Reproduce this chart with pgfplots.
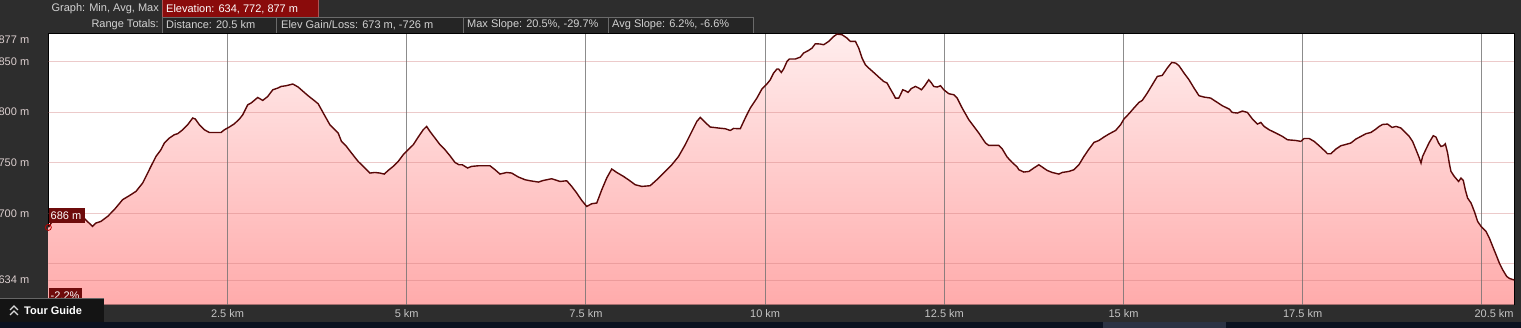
\documentclass[border=0pt]{standalone}
\usepackage{pgfplots}
\pgfplotsset{compat=1.18}
\usepackage{pgfplotstable}
\usepackage{fontspec}
\setmainfont{Liberation Sans}
\definecolor{bg}{HTML}{2D2D2D}
\definecolor{navy}{HTML}{0B1220}
\definecolor{thumb}{HTML}{2C3344}
\definecolor{boxbg}{HTML}{252525}
\definecolor{boxline}{HTML}{6A6A6A}
\definecolor{elevred}{HTML}{8A0B0B}
\definecolor{maroon}{HTML}{6E0C0C}
\definecolor{curve}{HTML}{5A0808}
\definecolor{fillTop}{HTML}{FFEDED}
\definecolor{fillBot}{HTML}{FFABAB}
\definecolor{ylab}{HTML}{DCCFCF}
\definecolor{xlab}{HTML}{C4C4C4}
\definecolor{toptxt}{HTML}{D2D2D2}
\definecolor{gridpink}{HTML}{D07C7C}
\definecolor{gridgray}{HTML}{707070}

\pgfplotstableread{
km elev
0 686
0.10 697
0.30 699
0.478 696.3
0.617 687.0
0.663 690.3
0.733 691.9
0.827 696.9
0.919 703.5
1.036 713.4
1.128 717.3
1.222 721.6
1.316 729.9
1.362 736.4
1.431 746.3
1.501 756.1
1.571 762.8
1.618 769.4
1.688 774.3
1.757 777.6
1.804 778.6
1.874 782.5
1.944 787.5
2.014 794.1
2.050 793.1
2.106 787.5
2.176 782.5
2.246 779.8
2.409 779.8
2.456 782.5
2.525 785.2
2.595 788.4
2.665 793.1
2.712 797.3
2.758 803.9
2.782 807.2
2.828 808.9
2.921 814.4
2.991 811.5
3.061 815.4
3.131 822.0
3.201 823.7
3.247 825.3
3.317 826.0
3.410 827.7
3.485 824.7
3.554 820.4
3.624 816.1
3.694 812.2
3.764 808.2
3.810 802.3
3.857 796.3
3.927 787.5
3.997 782.5
4.043 779.3
4.089 771.0
4.159 766.0
4.229 759.5
4.322 751.2
4.416 744.7
4.486 739.7
4.556 740.3
4.626 739.7
4.686 738.7
4.741 742.3
4.811 746.3
4.881 751.2
4.951 757.8
5.021 762.8
5.091 767.7
5.160 775.3
5.230 782.5
5.277 785.8
5.324 780.8
5.394 774.3
5.464 767.7
5.533 762.8
5.603 756.8
5.673 750.2
5.729 747.9
5.775 747.9
5.849 744.7
5.905 746.3
5.998 746.9
6.162 746.9
6.232 743.0
6.301 738.7
6.394 740.3
6.464 739.7
6.557 735.8
6.651 733.1
6.720 732.1
6.837 730.8
6.906 732.4
7.022 734.1
7.139 731.4
7.232 732.1
7.302 726.5
7.371 720.0
7.441 712.7
7.511 706.7
7.581 709.4
7.651 710.1
7.721 723.2
7.790 734.8
7.860 743.7
7.930 740.3
8.024 736.4
8.093 733.1
8.187 728.2
8.279 726.5
8.396 727.2
8.489 733.1
8.606 741.3
8.698 747.9
8.792 756.1
8.885 767.7
8.977 780.8
9.047 790.7
9.095 794.7
9.165 789.7
9.234 785.2
9.350 784.2
9.444 783.5
9.514 781.8
9.560 783.8
9.653 783.5
9.723 794.1
9.793 804.0
9.885 813.8
9.955 822.7
10.025 827.7
10.072 831.9
10.118 838.5
10.165 842.5
10.188 842.5
10.226 839.1
10.258 842.5
10.305 850.0
10.338 852.4
10.422 852.4
10.491 854.3
10.537 858.3
10.607 860.9
10.654 863.2
10.701 867.5
10.771 867.2
10.817 866.5
10.887 869.8
10.957 874.7
11.003 877.0
11.073 876.4
11.142 873.1
11.190 869.8
11.260 869.8
11.306 863.2
11.352 853.4
11.399 846.7
11.445 843.5
11.515 839.1
11.585 834.6
11.655 830.2
11.701 828.7
11.748 822.7
11.794 817.1
11.818 813.8
11.864 813.8
11.888 817.1
11.920 822.0
11.958 821.0
11.994 819.4
12.041 823.3
12.097 825.3
12.144 823.7
12.181 822.0
12.227 826.0
12.283 831.9
12.321 828.7
12.353 825.3
12.399 824.7
12.447 826.0
12.493 822.0
12.563 818.1
12.633 817.1
12.679 813.8
12.749 804.0
12.842 792.4
12.912 785.8
12.981 779.3
13.028 774.3
13.075 769.4
13.121 767.0
13.261 767.0
13.307 763.7
13.377 755.5
13.447 750.2
13.517 745.7
13.540 743.0
13.610 740.7
13.680 741.3
13.749 744.7
13.819 747.9
13.865 745.7
13.935 742.3
14.005 740.3
14.098 738.7
14.145 740.3
14.238 741.3
14.308 743.0
14.378 747.9
14.448 756.1
14.518 763.4
14.588 770.0
14.657 771.9
14.727 775.3
14.797 778.3
14.890 781.8
14.960 787.5
15.006 793.1
15.076 798.3
15.146 804.0
15.216 809.5
15.262 811.5
15.332 818.8
15.402 827.0
15.472 835.2
15.541 836.2
15.611 843.5
15.673 849.0
15.728 848.4
15.775 845.7
15.845 838.5
15.914 831.9
15.984 823.7
16.054 816.1
16.124 814.8
16.217 813.8
16.287 810.5
16.380 806.2
16.473 803.0
16.519 799.6
16.589 799.0
16.659 801.0
16.729 799.6
16.799 793.1
16.869 788.1
16.916 789.7
16.962 785.8
17.032 782.5
17.125 779.3
17.218 775.9
17.288 772.6
17.404 771.9
17.474 771.0
17.520 773.9
17.590 773.9
17.660 771.0
17.730 766.7
17.800 762.1
17.846 758.8
17.893 758.8
17.963 763.4
18.033 766.7
18.103 768.0
18.173 769.4
18.242 773.3
18.312 775.9
18.382 778.6
18.452 779.8
18.522 783.2
18.568 785.8
18.614 787.7
18.684 788.1
18.746 784.8
18.802 785.8
18.871 784.2
18.918 780.8
18.987 775.9
19.033 771.0
19.081 762.8
19.127 754.6
19.151 749.6
19.173 756.1
19.221 763.4
19.266 770.0
19.322 776.6
19.360 775.3
19.396 769.4
19.430 766.0
19.462 766.7
19.490 768.7
19.522 759.5
19.545 749.6
19.569 741.3
19.615 736.4
19.675 731.4
19.709 734.8
19.741 732.4
19.769 723.2
19.801 715.0
19.849 710.1
19.895 701.8
19.941 691.9
19.989 687.0
20.058 682.0
20.104 675.5
20.151 667.2
20.198 659.0
20.244 650.8
20.290 644.2
20.346 637.6
20.384 635.6
20.454 634.0
}\profile

\begin{document}
\begin{tikzpicture}[x=1pt,y=1pt,font=\fontsize{11}{13}\selectfont]
\path[use as bounding box] (0,0) rectangle (1521,328);
\fill[bg] (0,0) rectangle (1521,328);
\fill[navy] (0,0) rectangle (1521,6);
\fill[thumb] (1103,0) rectangle (1226,6);

% top info bar
\node[anchor=east,text=toptxt,inner sep=0pt] at (159,319) {Graph: Min, Avg, Max};
\filldraw[fill=elevred,draw=elevred!70!white,line width=0.6pt] (162,310.5) rectangle (318,330);
\node[anchor=west,text=white,inner sep=0pt] at (166,319) {Elevation: 634, 772, 877 m};
\node[anchor=east,text=toptxt,inner sep=0pt] at (159,303) {Range Totals:};
\filldraw[fill=boxbg,draw=boxline,line width=0.6pt] (162,295) rectangle (276,311);
\filldraw[fill=boxbg,draw=boxline,line width=0.6pt] (276,295) rectangle (463,311);
\filldraw[fill=boxbg,draw=boxline,line width=0.6pt] (463,295) rectangle (608,311);
\filldraw[fill=boxbg,draw=boxline,line width=0.6pt] (608,295) rectangle (753,311);
\node[anchor=west,text=toptxt,inner sep=0pt] at (166,303) {Distance: 20.5 km};
\node[anchor=west,text=toptxt,inner sep=0pt] at (281,303) {Elev Gain/Loss: 673 m, -726 m};
\node[anchor=west,text=toptxt,inner sep=0pt] at (467,303) {Max Slope: 20.5\%, -29.7\%};
\node[anchor=west,text=toptxt,inner sep=0pt] at (612,303) {Avg Slope: 6.2\%, -6.6\%};

\begin{axis}[
  at={(67.5,23)}, anchor=south west,
  scale only axis, width=1466pt, height=271pt,
  xmin=0, xmax=20.454, ymin=609.6, ymax=877.4,
  axis background/.style={fill=white},
  axis line style={draw=black, line width=1.5pt},
  xtick={2.5,5,7.5,10,12.5,15,17.5},
  xticklabels={2.5 km,5 km,7.5 km,10 km,12.5 km,15 km,17.5 km},
  extra x ticks={20}, extra x tick labels={20.5 km},
  extra x tick style={xticklabel style={anchor=north east, xshift=32pt}},
  ytick={634,700,750,800,850},
  yticklabels={634 m,700 m,750 m,800 m,850 m},
  extra y ticks={877}, extra y tick labels={877 m},
  extra y tick style={yticklabel style={yshift=-6pt}},
  major tick length=0pt,
  tick label style={font=\fontsize{11}{13}\selectfont, inner sep=0pt},
  xticklabel style={text=xlab, anchor=north, yshift=-5pt},
  yticklabel style={text=ylab, anchor=east, xshift=-19pt},
  clip=true,
]
\addplot[draw=none, top color=fillTop, bottom color=fillBot] table[x=km,y=elev]{\profile}
  -- (axis cs:20.454,609.6) -- (axis cs:0,609.6) -- cycle;
\pgfplotsinvokeforeach{634,650,700,750,800,850}{
  \draw[gridpink, opacity=0.4, line width=1pt] (axis cs:0,#1) -- (axis cs:20.454,#1);
}
\pgfplotsinvokeforeach{2.5,5,7.5,10,12.5,15,17.5,20}{
  \draw[gridgray, opacity=0.8, line width=1pt] (axis cs:#1,609.6) -- (axis cs:#1,877.4);
}
\addplot[color=curve, line width=1.4pt] table[x=km,y=elev]{\profile};
\addplot[only marks, mark=o, mark size=3pt, mark options={draw=red!75!black, line width=0.8pt}] coordinates {(0,686)};
\end{axis}

% value labels
\fill[maroon] (49,105) rectangle (85,120);
\node[anchor=west,text=white,inner sep=0pt] at (50.5,112.5) {686 m};
\fill[maroon] (49,24) rectangle (82,40);
\node[anchor=west,text=white,inner sep=0pt] at (50.5,32) {-2.2\%};

% tour guide tab
\fill[black!92] (0,6) rectangle (104,30);
\draw[black!60,line width=0.8pt] (0,30) -- (104,30);
\draw[white!85!black,line width=1.2pt] (10,18) -- (14,22) -- (18,18);
\draw[white!85!black,line width=1.2pt] (10,13) -- (14,17) -- (18,13);
\node[anchor=west,text=white,inner sep=0pt,font=\fontsize{11}{13}\selectfont\bfseries] at (24,17) {Tour Guide};
\end{tikzpicture}
\end{document}
